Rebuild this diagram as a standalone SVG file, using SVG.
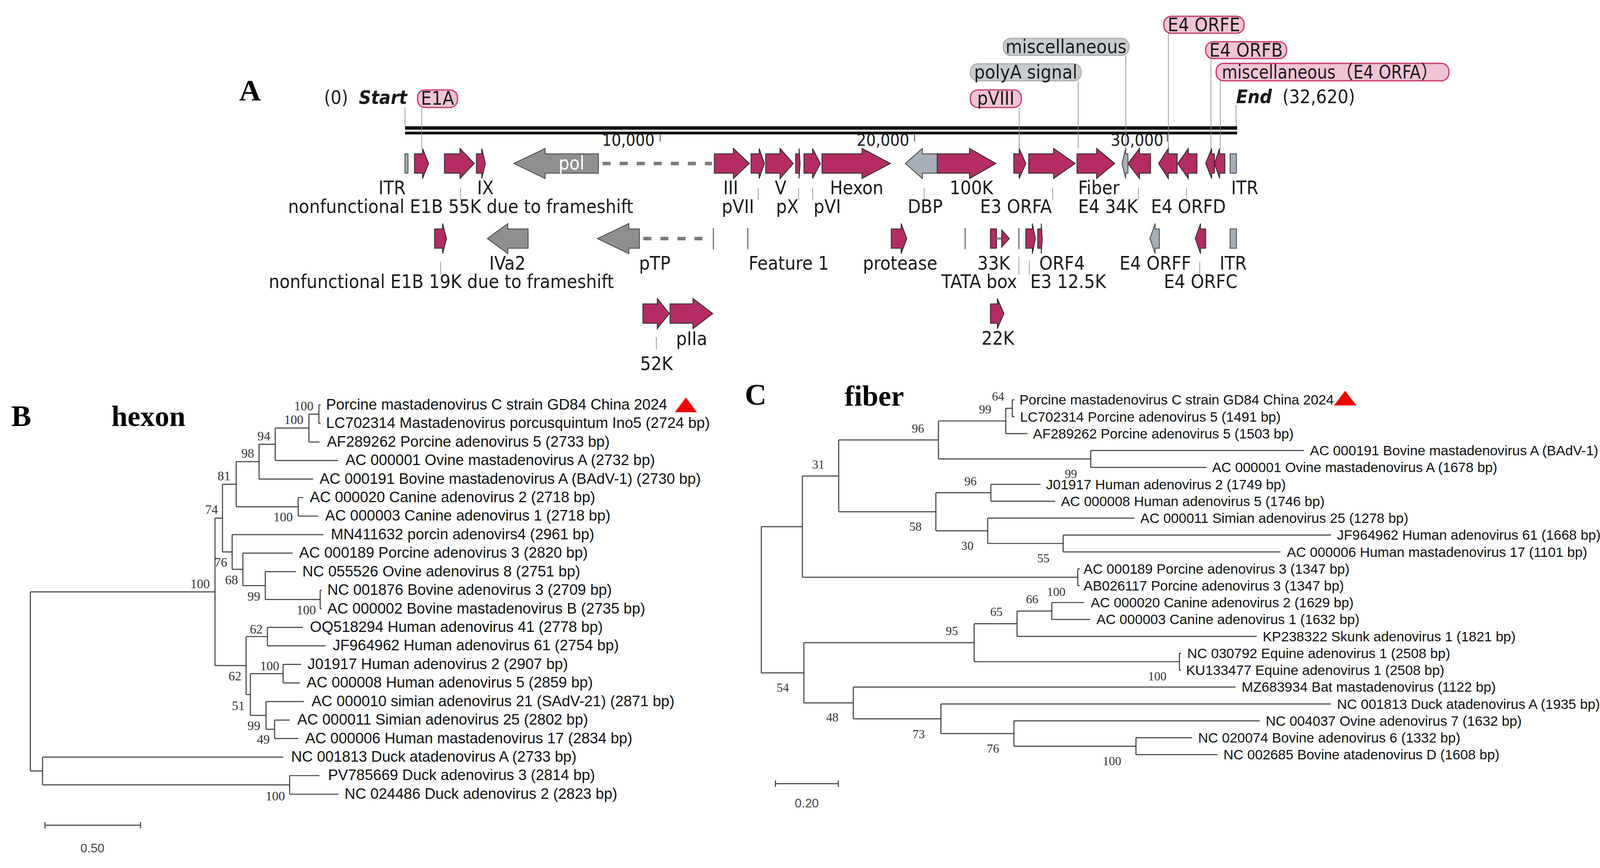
<svg xmlns="http://www.w3.org/2000/svg" width="4304" height="2221" viewBox="0 0 4304 2221">
<style>
.lb{font-family:"DejaVu Sans Condensed","DejaVu Sans","Noto Sans CJK SC",sans-serif;font-stretch:condensed;font-size:17.6px;fill:#1a1a1a}
.tk{font-family:"DejaVu Sans Condensed","DejaVu Sans",sans-serif;font-stretch:condensed;font-size:15.6px;fill:#1a1a1a}
.bi{font-weight:bold;font-style:italic}
.pk{fill:#b32d63;stroke:#2b2b2b;stroke-width:0.8}
.gy{fill:#8f8f8f;stroke:#4a4a4a;stroke-width:0.8}
.lg{fill:#a6aeb7;stroke:#4a4a4a;stroke-width:0.8}
.ld{stroke:#8a8a8a;stroke-width:0.6;fill:none}
.vl{stroke:#444;stroke-width:0.8;fill:none}
.pp{fill:#f1c4d5;stroke:#c93d74;stroke-width:1.2}
.pg{fill:#c8ccd1;stroke:#adb2b8;stroke-width:1.2}
.dash{stroke:#7a7a7a;stroke-width:3.2;stroke-dasharray:7.5 8.4;fill:none}
.tr{stroke:#333;stroke-width:0.9;fill:none}
.lfB{font-family:"Liberation Sans",Arial,sans-serif;font-size:14px;fill:#111}
.lfC{font-family:"Liberation Sans",Arial,sans-serif;font-size:12.9px;fill:#111}
.bsB{font-family:"Liberation Serif","Times New Roman",serif;font-size:12px;fill:#333}
.bsC{font-family:"Liberation Serif","Times New Roman",serif;font-size:11.5px;fill:#333}
.ttl{font-family:"Liberation Serif","Times New Roman",serif;font-weight:bold;font-size:28px;fill:#000}
.sc{font-family:"Liberation Sans",Arial,sans-serif;font-size:11.5px;fill:#444}
</style>
<rect width="4304" height="2221" fill="#fff"/>
<g transform="scale(2.745)">
<!-- ===== Panel A ===== -->
<g id="panelA">
<text class="ttl" x="223" y="93.5">A</text>
<g id="genome">
<rect x="377.7" y="117.7" width="776.1" height="3.2" fill="#111"/>
<rect x="377.7" y="122.7" width="776.1" height="2.6" fill="#111"/>
<path class="vl" d="M615.7,125 V132 M852.9,125 V132 M1088.6,125 V132" stroke-width="1.1"/>
<text class="tk" x="610.5" y="136" text-anchor="end">10,000</text>
<text class="tk" x="848" y="136" text-anchor="end">20,000</text>
<text class="tk" x="1085" y="136" text-anchor="end">30,000</text>
<text class="lb" x="302.2" y="97">(0)</text>
<text class="lb bi" x="334.7" y="97">Start</text>
<text class="lb bi" x="1152.8" y="96">End</text>
<text class="lb" x="1196" y="96">(32,620)</text>
</g>
<g id="connectors-A">
<path class="ld" d="M377.7,100 V117.7 M1152.8,98 V117.7 M393.3,100.2 V138.4 M950.5,100.2 V138.4 M1005.5,75.3 V138.4 M1050,51.6 V138.4 M1089.6,31 V138.4 M1129.3,54.6 V138.4 M1138.1,75.3 V138.4"/>
<path class="ld" d="M429.5,174.9 V186.4 M707.1,174.9 V186.4 M744.8,174.9 V186.4 M757.9,174.9 V186.4 M861.9,174.9 V186.4 M981.7,174.9 V186.4 M1061.7,174.9 V186.4 M1106.6,174.9 V186.4"/>
<path class="ld" d="M411,244 V256 M950.2,239.2 V256.2 M960,242.9 V256.2 M1118.9,244.1 V256.2 M612.1,314.4 V326"/>
<path class="dash" d="M562,152.4 H664 M600,222.4 H663"/>
<path class="vl" d="M665.3,212.4 V232.4" stroke="#888"/>
</g>
<!-- pills -->
<g id="pill-E1A"><rect class="pp" x="389.4" y="83.8" width="37.3" height="16.4" rx="7"/><text class="lb" x="408" y="97.8" text-anchor="middle">E1A</text></g>
<g id="pill-pVIII"><rect class="pp" x="905" y="83.8" width="47.5" height="16.4" rx="7"/><text class="lb" x="928.7" y="97.8" text-anchor="middle">pVIII</text></g>
<g id="pill-polyA"><rect class="pg" x="905" y="59.5" width="103.2" height="15.8" rx="7"/><text class="lb" x="956.6" y="73.3" text-anchor="middle">polyA signal</text></g>
<g id="pill-misc"><rect class="pg" x="935.7" y="35.8" width="117.1" height="15.8" rx="7"/><text class="lb" x="994.2" y="49.6" text-anchor="middle">miscellaneous</text></g>
<g id="pill-E4ORFE"><rect class="pp" x="1085.4" y="15.2" width="74.8" height="15.8" rx="7"/><text class="lb" x="1122.8" y="29" text-anchor="middle">E4 ORFE</text></g>
<g id="pill-E4ORFB"><rect class="pp" x="1124.4" y="38.9" width="75.5" height="15.7" rx="7"/><text class="lb" x="1162.1" y="52.7" text-anchor="middle">E4 ORFB</text></g>
<g id="pill-E4ORFA"><rect class="pp" x="1134.2" y="59.1" width="217" height="16.2" rx="7"/><text class="lb" x="1139.5" y="73.1" textLength="202" lengthAdjust="spacingAndGlyphs">miscellaneous（E4 ORFA）</text></g>
<!-- row 1 features -->
<g id="f-ITR1"><rect class="lg" x="377.7" y="143.4" width="2.8" height="18"/><text class="lb" x="353" y="180.9">ITR</text></g>
<g id="f-E1A"><polygon class="pk" points="386.6,143.4 394.1,143.4 394.1,138.4 399.7,152.4 394.1,166.4 394.1,161.4 386.6,161.4"/></g>
<g id="f-E1B55K"><polygon class="pk" points="414.5,143.4 429,143.4 429,138.4 442.3,152.4 429,166.4 429,161.4 414.5,161.4"/><text class="lb" x="268.7" y="198.5">nonfunctional E1B 55K due to frameshift</text></g>
<g id="f-IX"><polygon class="pk" points="444.3,143.4 449.3,143.4 449.3,138.4 452.7,152.4 449.3,166.4 449.3,161.4 444.3,161.4"/><text class="lb" x="445" y="180.9">IX</text></g>
<g id="f-pol"><polygon class="gy" points="558.1,143.4 508.4,143.4 508.4,138.4 479.2,152.4 508.4,166.4 508.4,161.4 558.1,161.4"/><text class="lb" x="533" y="158" text-anchor="middle" style="fill:#fff">pol</text></g>
<g id="f-III"><polygon class="pk" points="666.2,143.4 684,143.4 684,138.4 698.8,152.4 684,166.4 684,161.4 666.2,161.4"/><text class="lb" x="674.5" y="180.9">III</text></g>
<g id="f-pVII"><polygon class="pk" points="700.5,143.4 708,143.4 708,138.4 712.9,152.4 708,166.4 708,161.4 700.5,161.4"/><text class="lb" x="673.1" y="198.5">pVII</text></g>
<g id="f-V"><polygon class="pk" points="714.1,143.4 727.5,143.4 727.5,138.4 739.8,152.4 727.5,166.4 727.5,161.4 714.1,161.4"/><text class="lb" x="722.6" y="180.9">V</text></g>
<g id="f-pX"><polygon class="pk" points="742,143.4 745.2,143.4 745.2,138.4 746.2,152.4 745.2,166.4 745.2,161.4 742,161.4"/><text class="lb" x="723.8" y="198.5">pX</text></g>
<g id="f-pVI"><polygon class="pk" points="749.8,143.4 757.8,143.4 757.8,138.4 765.1,152.4 757.8,166.4 757.8,161.4 749.8,161.4"/><text class="lb" x="758.7" y="198.5">pVI</text></g>
<g id="f-Hexon"><polygon class="pk" points="766.6,143.4 803.9,143.4 803.9,138.4 830.4,152.4 803.9,166.4 803.9,161.4 766.6,161.4"/><text class="lb" x="774" y="180.9">Hexon</text></g>
<g id="f-DBP"><polygon class="lg" points="874.2,143.4 860.2,143.4 860.2,138.4 844.3,152.4 860.2,166.4 860.2,161.4 874.2,161.4"/><text class="lb" x="846.5" y="198.5">DBP</text></g>
<g id="f-100K"><polygon class="pk" points="874.2,143.4 904.2,143.4 904.2,138.4 928.8,152.4 904.2,166.4 904.2,161.4 874.2,161.4"/><text class="lb" x="885.6" y="180.9">100K</text></g>
<g id="f-pVIII"><polygon class="pk" points="945.5,143.4 950.5,143.4 950.5,138.4 956.7,152.4 950.5,166.4 950.5,161.4 945.5,161.4"/></g>
<g id="f-E3ORFA"><polygon class="pk" points="959.4,143.4 982.6,143.4 982.6,138.4 1002.7,152.4 982.6,166.4 982.6,161.4 959.4,161.4"/><text class="lb" x="914" y="198.5">E3 ORFA</text></g>
<g id="f-Fiber"><polygon class="pk" points="1004.4,143.4 1022.7,143.4 1022.7,138.4 1039.6,152.4 1022.7,166.4 1022.7,161.4 1004.4,161.4"/><text class="lb" x="1005.5" y="180.9">Fiber</text></g>
<g id="f-misc"><polygon class="lg" points="1051.9,143.4 1049.8,143.4 1049.8,138.4 1046.4,152.4 1049.8,166.4 1049.8,161.4 1051.9,161.4"/></g>
<g id="f-E434K"><polygon class="pk" points="1073,143.4 1062.7,143.4 1062.7,138.4 1051.9,152.4 1062.7,166.4 1062.7,161.4 1073,161.4"/><text class="lb" x="1005.5" y="198.5">E4 34K</text></g>
<g id="f-E4ORFE"><polygon class="pk" points="1097.8,143.4 1089.6,143.4 1089.6,138.4 1080.5,152.4 1089.6,166.4 1089.6,161.4 1097.8,161.4"/></g>
<g id="f-E4ORFD"><polygon class="pk" points="1116.3,143.4 1108.2,143.4 1108.2,138.4 1098.4,152.4 1108.2,166.4 1108.2,161.4 1116.3,161.4"/><text class="lb" x="1073.4" y="198.5">E4 ORFD</text></g>
<g id="f-E4ORFB"><polygon class="pk" points="1132.6,143.4 1130,143.4 1130,138.4 1124.4,152.4 1130,166.4 1130,161.4 1132.6,161.4"/></g>
<g id="f-E4ORFA"><polygon class="pk" points="1142.3,143.4 1137.4,143.4 1137.4,138.4 1132.6,152.4 1137.4,166.4 1137.4,161.4 1142.3,161.4"/></g>
<g id="f-ITR2"><rect class="lg" x="1147.2" y="143.4" width="5.9" height="18"/><text class="lb" x="1148.2" y="180.9">ITR</text></g>
<!-- row 2 features -->
<g id="f-E1B19K"><polygon class="pk" points="405.3,213.4 412.8,213.4 412.8,208.4 416.4,222.4 412.8,236.4 412.8,231.4 405.3,231.4"/><text class="lb" x="250.6" y="268.4">nonfunctional E1B 19K due to frameshift</text></g>
<g id="f-IVa2"><polygon class="gy" points="492.5,213.4 473.6,213.4 473.6,208.4 454.6,222.4 473.6,236.4 473.6,231.4 492.5,231.4"/><text class="lb" x="456.3" y="251.4">IVa2</text></g>
<g id="f-pTP"><polygon class="gy" points="596.3,213.4 586.5,213.4 586.5,208.4 557.2,222.4 586.5,236.4 586.5,231.4 596.3,231.4"/><text class="lb" x="596" y="251.4">pTP</text></g>
<g id="f-Feature1"><path class="vl" d="M697.4,212.4 V232.4"/><text class="lb" x="698.2" y="251.4">Feature 1</text></g>
<g id="f-protease"><polygon class="pk" points="831.2,213.4 840.4,213.4 840.4,208.4 845.7,222.4 840.4,236.4 840.4,231.4 831.2,231.4"/><text class="lb" x="804.7" y="251.4">protease</text></g>
<g id="f-line900"><path class="vl" d="M900.1,212.4 V232.4"/></g>
<g id="f-33K"><rect class="pk" x="923.7" y="213.4" width="5.6" height="18"/><path d="M929.3,222.4 H934.5" stroke="#8a8a8a" stroke-width="2.2"/><polygon class="pk" points="934.2,214.4 941.3,222.4 934.2,230.4"/><text class="lb" x="911.5" y="251.4">33K</text></g>
<g id="f-TATA"><path class="vl" d="M950.2,212.4 V232.4"/><text class="lb" x="878" y="268.4">TATA box</text></g>
<g id="f-E3125K"><polygon class="pk" points="956.7,213.4 962.8,213.4 962.8,208.4 965.6,222.4 962.8,236.4 962.8,231.4 956.7,231.4"/><text class="lb" x="960.8" y="268.4">E3 12.5K</text></g>
<g id="f-ORF4"><polygon class="pk" points="967.8,213.4 971.1,213.4 971.1,208.4 972,222.4 971.1,236.4 971.1,231.4 967.8,231.4"/><text class="lb" x="969.2" y="251.4">ORF4</text></g>
<g id="f-E4ORFF"><polygon class="lg" points="1081.2,213.4 1077.3,213.4 1077.3,208.4 1072.4,222.4 1077.3,236.4 1077.3,231.4 1081.2,231.4"/><text class="lb" x="1044.1" y="251.4">E4 ORFF</text></g>
<g id="f-E4ORFC"><polygon class="pk" points="1124.4,213.4 1119.6,213.4 1119.6,208.4 1114.7,222.4 1119.6,236.4 1119.6,231.4 1124.4,231.4"/><text class="lb" x="1085.4" y="268.4">E4 ORFC</text></g>
<g id="f-ITR3"><rect class="lg" x="1147.2" y="213.4" width="5.9" height="18"/><text class="lb" x="1137.4" y="251.4">ITR</text></g>
<!-- row 3 -->
<g id="f-52K"><polygon class="pk" points="599.6,283.3 613,283.3 613,278.3 624.2,292.3 613,306.3 613,301.3 599.6,301.3"/><text class="lb" x="597" y="345">52K</text></g>
<g id="f-pIIa"><polygon class="pk" points="624.9,283.3 646.3,283.3 646.3,278.3 664.7,292.3 646.3,306.3 646.3,301.3 624.9,301.3"/><text class="lb" x="630.5" y="321.8">pIIa</text></g>
<g id="f-22K"><polygon class="pk" points="923.7,283.3 930.1,283.3 930.1,278.3 936.3,292.3 930.1,306.3 930.1,301.3 923.7,301.3"/><text class="lb" x="915.4" y="321.2">22K</text></g>
</g>
<!-- ===== Panel B ===== -->
<g id="panelB">
<text class="ttl" x="10.5" y="397">B</text>
<text class="ttl" x="103.9" y="397" style="font-size:27px">hexon</text>
<g id="connectors-B">
<path class="tr" d="M28.3,551.7 V718.7 M28.3,551.7 H200.5 M28.3,718.7 H39.7
M39.7,705.7 V731.6 M39.7,705.7 H264 M39.7,731.6 H270.1
M270.1,723 V740.3 M270.1,723 H298 M270.1,740.3 H315.6
M200.5,483 V620.4 M200.5,483 H207.5 M200.5,620.4 H229.5
M207.5,451.4 V514.5 M207.5,451.4 H220.3 M207.5,514.5 H216.5
M220.3,430.3 V472.4 M220.3,430.3 H241.6 M220.3,472.4 H278.1
M241.6,414.1 V446.5 M241.6,414.1 H256.7 M241.6,446.5 H292
M256.7,399 V429.2 M256.7,399 H288.1 M256.7,429.2 H315.3
M288.1,386.05 V412 M288.1,386.05 H297.4 M288.1,412 H298.1
M297.4,377.4 V394.7 M297.4,377.4 H299 M297.4,394.7 H299
M278.1,463.8 V481.1 M278.1,463.8 H283 M278.1,481.1 H296.7
M216.5,498.4 V530.7 M216.5,498.4 H301.6 M216.5,530.7 H226.5
M226.5,515.6 V545.9 M226.5,515.6 H273 M226.5,545.9 H247.4
M247.4,532.9 V558.8 M247.4,532.9 H276 M247.4,558.8 H298.6
M298.6,550.2 V567.5 M298.6,550.2 H300 M298.6,567.5 H300
M229.5,593.4 V647.4 M229.5,593.4 H249.4 M229.5,647.4 H233.5
M249.4,584.8 V602 M249.4,584.8 H282.5 M249.4,602 H303.7
M233.5,627.95 V666.85 M233.5,627.95 H264 M233.5,666.85 H248.1
M264,619.3 V636.6 M264,619.3 H280.8 M264,636.6 H279.5
M248.1,653.9 V679.8 M248.1,653.9 H283.4 M248.1,679.8 H256.1
M256.1,671.2 V688.4 M256.1,671.2 H270.2 M256.1,688.4 H278.1"/>
<path class="tr" d="M41.9,769.2 H131.1 M41.9,766.2 V772.2 M131.1,766.2 V772.2"/>
</g>
<text class="sc" x="75" y="794.6">0.50</text>
<g id="B-bootstrap" class="bsB" text-anchor="end">
<text x="292.3" y="382.4">100</text><text x="283" y="395.1">100</text><text x="252.1" y="410.7">94</text>
<text x="237" y="426.7">98</text><text x="214.9" y="447.6">81</text><text x="203.3" y="479.1">74</text>
<text x="273" y="485.8">100</text><text x="211.9" y="528.2">76</text><text x="221.9" y="544.5">68</text>
<text x="195.6" y="548.2">100</text><text x="242.8" y="560.1">99</text><text x="294.6" y="572.8">100</text>
<text x="245" y="590.5">62</text><text x="260.5" y="624.7">100</text><text x="225.1" y="634.4">62</text>
<text x="228.2" y="662">51</text><text x="242.8" y="680.6">99</text><text x="251.6" y="693.3">49</text>
<text x="265.7" y="746.1">100</text>
</g>
<g id="B-leaf-1"><text class="lfB" x="304.1" y="381.7">Porcine mastadenovirus C strain GD84 China 2024</text><polygon points="639.7,370.5 629.4,384.2 649.9,384.2" fill="#ee0000"/></g>
<g id="B-leaf-2"><text class="lfB" x="304.1" y="398.98">LC702314 Mastadenovirus porcusquintum Ino5 (2724 bp)</text></g>
<g id="B-leaf-3"><text class="lfB" x="304.8" y="416.26">AF289262 Porcine adenovirus 5 (2733 bp)</text></g>
<g id="B-leaf-4"><text class="lfB" x="322.2" y="433.54">AC 000001 Ovine mastadenovirus A (2732 bp)</text></g>
<g id="B-leaf-5"><text class="lfB" x="298" y="450.82">AC 000191 Bovine mastadenovirus A (BAdV-1) (2730 bp)</text></g>
<g id="B-leaf-6"><text class="lfB" x="289" y="468.1">AC 000020 Canine adenovirus 2 (2718 bp)</text></g>
<g id="B-leaf-7"><text class="lfB" x="303.2" y="485.38">AC 000003 Canine adenovirus 1 (2718 bp)</text></g>
<g id="B-leaf-8"><text class="lfB" x="308.6" y="502.66">MN411632 porcin adenovirs4 (2961 bp)</text></g>
<g id="B-leaf-9"><text class="lfB" x="279" y="519.94">AC 000189 Porcine adenovirus 3 (2820 bp)</text></g>
<g id="B-leaf-10"><text class="lfB" x="282" y="537.22">NC 055526 Ovine adenovirus 8 (2751 bp)</text></g>
<g id="B-leaf-11"><text class="lfB" x="305.3" y="554.5">NC 001876 Bovine adenovirus 3 (2709 bp)</text></g>
<g id="B-leaf-12"><text class="lfB" x="305.3" y="571.78">AC 000002 Bovine mastadenovirus B (2735 bp)</text></g>
<g id="B-leaf-13"><text class="lfB" x="289.1" y="589.06">OQ518294 Human adenovirus 41 (2778 bp)</text></g>
<g id="B-leaf-14"><text class="lfB" x="310.3" y="606.34">JF964962 Human adenovirus 61 (2754 bp)</text></g>
<g id="B-leaf-15"><text class="lfB" x="286.9" y="623.62">J01917 Human adenovirus 2 (2907 bp)</text></g>
<g id="B-leaf-16"><text class="lfB" x="286" y="640.9">AC 000008 Human adenovirus 5 (2859 bp)</text></g>
<g id="B-leaf-17"><text class="lfB" x="290.5" y="658.18">AC 000010 simian adenovirus 21 (SAdV-21) (2871 bp)</text></g>
<g id="B-leaf-18"><text class="lfB" x="277.2" y="675.46">AC 000011 Simian adenovirus 25 (2802 bp)</text></g>
<g id="B-leaf-19"><text class="lfB" x="284.7" y="692.74">AC 000006 Human mastadenovirus 17 (2834 bp)</text></g>
<g id="B-leaf-20"><text class="lfB" x="271.5" y="710.02">NC 001813 Duck atadenovirus A (2733 bp)</text></g>
<g id="B-leaf-21"><text class="lfB" x="305.9" y="727.3">PV785669 Duck adenovirus 3 (2814 bp)</text></g>
<g id="B-leaf-22"><text class="lfB" x="321.3" y="744.58">NC 024486 Duck adenovirus 2 (2823 bp)</text></g>
</g>
<!-- ===== Panel C ===== -->
<g id="panelC">
<text class="ttl" x="694.6" y="377.2">C</text>
<text class="ttl" x="787.6" y="378" style="font-size:27px">fiber</text>
<g id="connectors-C">
<path class="tr" d="M710,491 V627.2 M710,491 H748.3 M710,627.2 H749.7
M748.3,443.7 V538.1 M748.3,443.7 H782.2 M748.3,538.1 H1005.1
M782.2,410.1 V477.05 M782.2,410.1 H875.2 M782.2,477.05 H872.8
M875.2,392.4 V427.8 M875.2,392.4 H938 M875.2,427.8 H1017.2
M938,380.6 V404.2 M938,380.6 H944.1 M938,404.2 H958.3
M944.1,372.7 V388.45 M944.1,372.7 H946 M944.1,388.45 H946
M1017.2,419.95 V435.7 M1017.2,419.95 H1216 M1017.2,435.7 H1125.3
M872.8,459.3 V494.8 M872.8,459.3 H924.1 M872.8,494.8 H921.1
M924.1,451.45 V467.2 M924.1,451.45 H970.4 M924.1,467.2 H984
M921.1,482.95 V506.6 M921.1,482.95 H1057.9 M921.1,506.6 H991.5
M991.5,498.7 V514.45 M991.5,498.7 H1241.2 M991.5,514.45 H1194.2
M1005.1,530.2 V545.95 M1005.1,530.2 H1007 M1005.1,545.95 H1007
M749.7,599.1 V655.2 M749.7,599.1 H908.5 M749.7,655.2 H795.8
M908.5,581.4 V616.8 M908.5,581.4 H948.5 M908.5,616.8 H1099.9
M948.5,569.6 V593.2 M948.5,569.6 H980.9 M948.5,593.2 H1172
M980.9,561.7 V577.45 M980.9,561.7 H1011.1 M980.9,577.45 H1016.6
M1099.9,608.95 V624.7 M1099.9,608.95 H1101.5 M1099.9,624.7 H1101.5
M795.8,640.45 V670 M795.8,640.45 H1152.3 M795.8,670 H877.5
M877.5,656.2 V683.8 M877.5,656.2 H1241.3 M877.5,683.8 H945.6
M945.6,671.95 V695.6 M945.6,671.95 H1174.8 M945.6,695.6 H1059.4
M1059.4,687.7 V703.45 M1059.4,687.7 H1111.8 M1059.4,703.45 H1135.4"/>
<path class="tr" d="M723.2,730.5 H781.8 M723.2,727.5 V733.5 M781.8,727.5 V733.5"/>
</g>
<text class="sc" x="741.2" y="752.8">0.20</text>
<g id="C-bootstrap" class="bsC">
<text x="925" y="373.5">64</text><text x="913" y="385.4">99</text><text x="850.4" y="403.2">96</text>
<text x="757.4" y="436.7">31</text><text x="993" y="445.6">99</text><text x="899.4" y="452.3">96</text>
<text x="848" y="494.7">58</text><text x="896.4" y="512.5">30</text><text x="967.3" y="524.4">55</text>
<text x="976.4" y="555.6">100</text><text x="956.8" y="562.3">66</text><text x="923.5" y="574.2">65</text>
<text x="882" y="592">95</text><text x="1070.7" y="634.4">100</text><text x="724.3" y="644.9">54</text>
<text x="770.5" y="672.4">48</text><text x="851" y="688.1">73</text><text x="920.3" y="701.5">76</text>
<text x="1028.4" y="713.4">100</text>
</g>
<g id="C-leaf-1"><text class="lfC" x="950.7" y="377.2">Porcine mastadenovirus C strain GD84 China 2024</text><polygon points="1254.5,364.3 1244,378 1265,378" fill="#ee0000"/></g>
<g id="C-leaf-2"><text class="lfC" x="951.3" y="392.95">LC702314 Porcine adenovirus 5 (1491 bp)</text></g>
<g id="C-leaf-3"><text class="lfC" x="963.4" y="408.7">AF289262 Porcine adenovirus 5 (1503 bp)</text></g>
<g id="C-leaf-4"><text class="lfC" x="1221.7" y="424.45">AC 000191 Bovine mastadenovirus A (BAdV-1) (1812 bp)</text></g>
<g id="C-leaf-5"><text class="lfC" x="1130.4" y="440.2">AC 000001 Ovine mastadenovirus A (1678 bp)</text></g>
<g id="C-leaf-6"><text class="lfC" x="975.5" y="455.95">J01917 Human adenovirus 2 (1749 bp)</text></g>
<g id="C-leaf-7"><text class="lfC" x="989.4" y="471.7">AC 000008 Human adenovirus 5 (1746 bp)</text></g>
<g id="C-leaf-8"><text class="lfC" x="1063.4" y="487.45">AC 000011 Simian adenovirus 25 (1278 bp)</text></g>
<g id="C-leaf-9"><text class="lfC" x="1246.8" y="503.2">JF964962 Human adenovirus 61 (1668 bp)</text></g>
<g id="C-leaf-10"><text class="lfC" x="1200.1" y="518.95">AC 000006 Human mastadenovirus 17 (1101 bp)</text></g>
<g id="C-leaf-11"><text class="lfC" x="1010.5" y="534.7">AC 000189 Porcine adenovirus 3 (1347 bp)</text></g>
<g id="C-leaf-12"><text class="lfC" x="1010.5" y="550.45">AB026117 Porcine adenovirus 3 (1347 bp)</text></g>
<g id="C-leaf-13"><text class="lfC" x="1017.2" y="566.2">AC 000020 Canine adenovirus 2 (1629 bp)</text></g>
<g id="C-leaf-14"><text class="lfC" x="1022.6" y="581.95">AC 000003 Canine adenovirus 1 (1632 bp)</text></g>
<g id="C-leaf-15"><text class="lfC" x="1177.6" y="597.7">KP238322 Skunk adenovirus 1 (1821 bp)</text></g>
<g id="C-leaf-16"><text class="lfC" x="1107.2" y="613.45">NC 030792 Equine adenovirus 1 (2508 bp)</text></g>
<g id="C-leaf-17"><text class="lfC" x="1106.1" y="629.2">KU133477 Equine adenovirus 1 (2508 bp)</text></g>
<g id="C-leaf-18"><text class="lfC" x="1157.9" y="644.95">MZ683934 Bat mastadenovirus (1122 bp)</text></g>
<g id="C-leaf-19"><text class="lfC" x="1246.9" y="660.7">NC 001813 Duck atadenovirus A (1935 bp)</text></g>
<g id="C-leaf-20"><text class="lfC" x="1180.4" y="676.45">NC 004037 Ovine adenovirus 7 (1632 bp)</text></g>
<g id="C-leaf-21"><text class="lfC" x="1117.4" y="692.2">NC 020074 Bovine adenovirus 6 (1332 bp)</text></g>
<g id="C-leaf-22"><text class="lfC" x="1141" y="707.95">NC 002685 Bovine atadenovirus D (1608 bp)</text></g>
</g>
</g>
</svg>
